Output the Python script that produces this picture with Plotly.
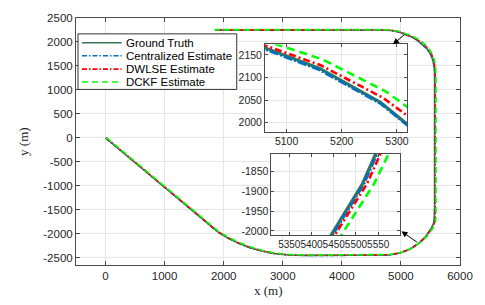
import plotly.graph_objects as go

# ---------------- data ----------------
gt_x = [0, 1750, 1900, 2050, 2250, 2450, 2650, 2850, 3100, 3400, 4600, 4800, 4980, 5150, 5300, 5420, 5515, 5552, 5566, 5570,
        5570, 5565, 5545, 5505, 5440, 5360, 5270, 5160, 5060, 4960, 4850, 4700, 1850]
gt_y = [0, -1820, -1960, -2075, -2195, -2290, -2360, -2410, -2440, -2450, -2450, -2440, -2400, -2320, -2200, -2055, -1880, -1785, -1650, -1450,
        1300, 1450, 1600, 1740, 1860, 1955, 2045, 2120, 2170, 2212, 2238, 2250, 2250]

cen_x = [5, 1752, 1902, 2052, 2251, 2451, 2651, 2851, 3101, 3400, 4600, 4801, 4982, 5153, 5303, 5423, 5518, 5555, 5569, 5573,
         5573, 5567, 5547, 5507, 5442, 5362, 5271, 5160, 5060, 4960, 4850, 4700, 1850]
cen_y = [-3, -1823, -1963, -2078, -2198, -2293, -2363, -2413, -2443, -2453, -2453, -2443, -2403, -2322, -2201, -2055, -1880, -1785, -1650, -1450,
         1300, 1449, 1598, 1738, 1857, 1952, 2042, 2117, 2167, 2209, 2236, 2248, 2248]

dw_x = [10, 1755, 1906, 2056, 2255, 2455, 2655, 2855, 3104, 3400, 4600, 4803, 4986, 5157, 5308, 5428, 5525, 5563, 5578, 5580,
        5580, 5576, 5557, 5518, 5452, 5370, 5275, 5162, 5060, 4960, 4850, 4700, 1850]
dw_y = [0, -1815, -1955, -2070, -2190, -2285, -2356, -2406, -2437, -2447, -2447, -2437, -2396, -2316, -2197, -2055, -1880, -1785, -1650, -1450,
        1300, 1452, 1604, 1747, 1870, 1969, 2055, 2127, 2175, 2215, 2241, 2253, 2253]

dc_x = [15, 1760, 1912, 2063, 2262, 2462, 2662, 2861, 3108, 3400, 4600, 4806, 4993, 5167, 5320, 5442, 5541, 5582, 5593, 5594,
        5594, 5588, 5568, 5528, 5461, 5378, 5280, 5165, 5060, 4960, 4850, 4700, 1850]
dc_y = [5, -1810, -1948, -2062, -2182, -2277, -2349, -2400, -2432, -2442, -2442, -2432, -2390, -2308, -2190, -2055, -1880, -1785, -1650, -1450,
        1300, 1458, 1614, 1760, 1883, 1983, 2069, 2140, 2185, 2222, 2246, 2257, 2257]

series_names = ["Ground Truth", "Centralized Estimate", "DWLSE Estimate", "DCKF Estimate"]
main_xticks = [0, 1000, 2000, 3000, 4000, 5000, 6000]
main_yticks = [-2500, -2000, -1500, -1000, -500, 0, 500, 1000, 1500, 2000, 2500]
in1_xticks = [5100, 5200, 5300]
in1_yticks = [2000, 2050, 2100, 2150]
in2_xticks = [5350, 5400, 5450, 5500, 5550]
in2_yticks = [-2000, -1950, -1900, -1850]

# ---------------- styles ----------------
colors = ["#3A7457", "#0072BD", "#FF0000", "#00FF00"]
dashes = ["solid", "5px,2px,1.5px,2px", "5px,2px,1.5px,2px", "6px,4px"]
data_sets = [(gt_x, gt_y), (cen_x, cen_y), (dw_x, dw_y), (dc_x, dc_y)]

L, R, T, B = 76, 463, 16, 265
W, H = 485, 305


def px(p):
    return (p - L) / (R - L)


def py(p):
    return 1 - (p - T) / (B - T)


def labels(vals):
    return [str(v) for v in vals]


fig = go.Figure()
for (xs, ys), c, d, n in zip(data_sets, colors, dashes, series_names):
    fig.add_trace(go.Scatter(x=xs, y=ys, mode="lines", name=n, showlegend=False,
                             line=dict(color=c, dash=d, width=1.6), xaxis="x", yaxis="y"))
inset_w = [3.2, 3.0, 2.6, 2.6]
for ax in ("2", "3"):
    for (xs, ys), c, d, n, w in zip(data_sets, colors, dashes, series_names, inset_w):
        dd = d if d == "solid" else ("9px,2px,2px,2px" if "1.5" in d else "8px,5px")
        if n == "DWLSE Estimate":
            dd = "7px,3px,2px,3px"
        fig.add_trace(go.Scatter(x=xs, y=ys, mode="lines", name=n, showlegend=False,
                                 line=dict(color=c, dash=dd, width=w), xaxis="x" + ax, yaxis="y" + ax))

axis_common = dict(showline=True, linecolor="#4a4a4a", linewidth=1, mirror="allticks", ticks="inside",
                   ticklen=4, tickcolor="#4a4a4a", showgrid=True, gridcolor="#e6e6e6", gridwidth=1,
                   zeroline=False, tickangle=0,
                   tickfont=dict(family="Liberation Sans", size=11.5, color="#262626"))
inset_common = dict(axis_common)
inset_common["tickfont"] = dict(family="Liberation Sans", size=10.5, color="#262626")
inset_common["ticklen"] = 3
inset2x = dict(inset_common)
inset2x["tickfont"] = dict(family="Liberation Sans", size=10, color="#262626")

fig.update_layout(
    width=W, height=H,
    margin=dict(l=L, r=W - R, t=T, b=H - B),
    paper_bgcolor="white", plot_bgcolor="white",
    showlegend=False,
    xaxis=dict(range=[-500, 6000], tickvals=main_xticks, ticktext=labels(main_xticks), domain=[0, 1], anchor="y", **axis_common),
    yaxis=dict(range=[-2650, 2500], tickvals=main_yticks, ticktext=labels(main_yticks), domain=[0, 1], anchor="x", **axis_common),
    xaxis2=dict(range=[5061, 5318], tickvals=in1_xticks, ticktext=labels(in1_xticks), domain=[px(266.5), px(409.5)], anchor="y2", **inset_common),
    yaxis2=dict(range=[1980, 2173], tickvals=in1_yticks, ticktext=labels(in1_yticks), domain=[py(130.7), py(42.7)], anchor="x2", **inset_common),
    xaxis3=dict(range=[5310, 5600], tickvals=in2_xticks, ticktext=labels(in2_xticks), domain=[px(273), px(403)], anchor="y3", **inset2x),
    yaxis3=dict(range=[-2011, -1805], tickvals=in2_yticks, ticktext=labels(in2_yticks), domain=[py(235), py(153)], anchor="x3", **inset_common),
)

shapes = []
annotations = []
# custom legend (compact, MATLAB-like)
shapes.append(dict(type="rect", xref="paper", yref="paper", x0=px(78), x1=px(238), y0=py(88), y1=py(32),
                   line=dict(color="#333333", width=1), fillcolor="white", layer="above"))
rows = [41, 54, 67.5, 80.5]
for r, c, d, n in zip(rows, colors, dashes, series_names):
    shapes.append(dict(type="line", xref="paper", yref="paper", x0=px(82), x1=px(122), y0=py(r), y1=py(r),
                       line=dict(color=c, width=1.6, dash=d), layer="above"))
    annotations.append(dict(x=px(124), y=py(r), xref="paper", yref="paper", text=n, showarrow=False,
                            xanchor="left", yanchor="middle",
                            font=dict(family="Liberation Sans", size=11.5, color="#000000")))

# axis titles
annotations.append(dict(x=0.5, y=py(291), xref="paper", yref="paper", text="x (m)", showarrow=False,
                        xanchor="center", yanchor="middle",
                        font=dict(family="Liberation Serif", size=13, color="#262626")))
annotations.append(dict(x=px(23), y=0.5, xref="paper", yref="paper", text="y (m)", showarrow=False,
                        textangle=-90, xanchor="center", yanchor="middle",
                        font=dict(family="Liberation Serif", size=13, color="#262626")))

# arrows pointing from trajectory to insets
annotations.append(dict(x=px(395.5), y=py(42.5), xref="paper", yref="paper", text="", showarrow=True,
                        ax=13, ay=-11, arrowhead=2, arrowsize=1.2, arrowwidth=1, arrowcolor="black", standoff=0))
annotations.append(dict(x=px(404), y=py(231), xref="paper", yref="paper", text="", showarrow=True,
                        ax=17, ay=12, arrowhead=2, arrowsize=1.2, arrowwidth=1, arrowcolor="black", standoff=0))

fig.update_layout(shapes=shapes, annotations=annotations)
fig.write_html("out.html", config={"displayModeBar": False},
               post_script="document.body.style.margin='0';document.body.style.overflow='hidden';")
